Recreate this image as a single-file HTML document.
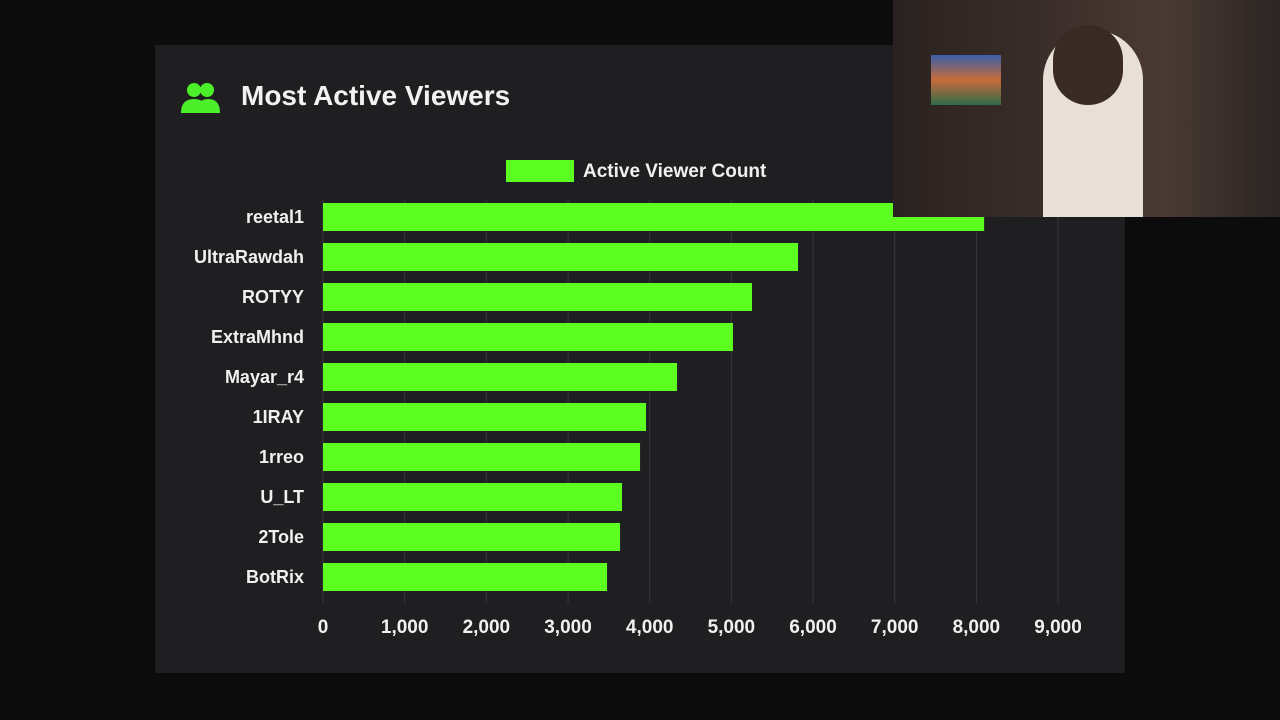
<!DOCTYPE html>
<html><head><meta charset="utf-8"><style>
html,body{margin:0;padding:0;width:1280px;height:720px;overflow:hidden;background:#0c0c0d;font-family:"Liberation Sans",sans-serif}
#panel{position:absolute;left:155px;top:45px;width:970px;height:628px;background:#1f1f22}
#title{position:absolute;left:241px;top:80px;font-size:28px;font-weight:bold;color:#f2f2f2}
#cam{position:absolute;left:893px;top:0;width:387px;height:217px;background:linear-gradient(90deg,#2a2220 0%,#3b2e2a 40%,#4a3a33 70%,#2c2523 100%)}
</style></head><body>
<div id="panel"></div>
<svg width="1280" height="720" style="position:absolute;left:0;top:0" id="chart">
  <g fill="#4cf02a">
    <circle cx="194" cy="90" r="7"/><circle cx="207" cy="90" r="7"/>
    <path d="M181 113 q0-14 13-14 q13 0 13 14z"/><path d="M197 113 q0-14 11-14 q12 0 12 14z"/>
  </g>
  <g id="grid"></g><g id="bars"></g><g id="labels"></g><g id="ticks"></g>
  <rect x="506" y="160" width="68" height="22" fill="#5cff1f"/>
  <text x="583" y="177" fill="#f0f0f0" font-size="19" font-weight="bold">Active Viewer Count</text>
</svg>
<div id="title">Most Active Viewers</div>
<div id="cam">
  <div style="position:absolute;left:38px;top:55px;width:70px;height:50px;background:linear-gradient(#3a5ea8,#c86b3a,#2f6b4a)"></div>
  <div style="position:absolute;left:150px;top:30px;width:100px;height:187px;background:#e8e0d6;border-radius:50px 50px 0 0"></div>
  <div style="position:absolute;left:160px;top:25px;width:70px;height:80px;background:#3a2a24;border-radius:35px"></div>
</div>
<script>
const categories=["reetal1","UltraRawdah","ROTYY","ExtraMhnd","Mayar_r4","1IRAY","1rreo","U_LT","2Tole","BotRix"];
const values=[8095,5816,5253,5020,4335,3955,3882,3661,3637,3478];
const tickValues=[0,1000,2000,3000,4000,5000,6000,7000,8000,9000];
const tickLabels=["0","1,000","2,000","3,000","4,000","5,000","6,000","7,000","8,000","9,000"];
const NS="http://www.w3.org/2000/svg";
const x=v=>323+v*0.08167;
const y=i=>203+i*40;
function mk(t,a,p){const e=document.createElementNS(NS,t);for(const k in a)e.setAttribute(k,a[k]);document.getElementById(p).appendChild(e);return e;}
tickValues.forEach((v,i)=>{
  const l=mk('line',{x1:x(v),x2:x(v),y1:200,y2:603,stroke:'#38383c','stroke-width':1},'grid');
  
  
  const t=mk('text',{x:x(v),y:633,fill:'#f0f0f0','font-size':19,'font-weight':'bold','text-anchor':'middle'},'ticks');
  t.textContent=tickLabels[i];
  
  
});
categories.forEach((c,i)=>{
  const r=mk('rect',{x:x(0),y:y(i),width:x(values[i])-x(0),height:28,fill:'#5cff1f'},'bars');
  
  
  const t=mk('text',{x:304,y:y(i)+20,fill:'#f0f0f0','font-size':18,'font-weight':'bold','text-anchor':'end'},'labels');
  t.textContent=c;
  
  
});
</script>
</body></html>
